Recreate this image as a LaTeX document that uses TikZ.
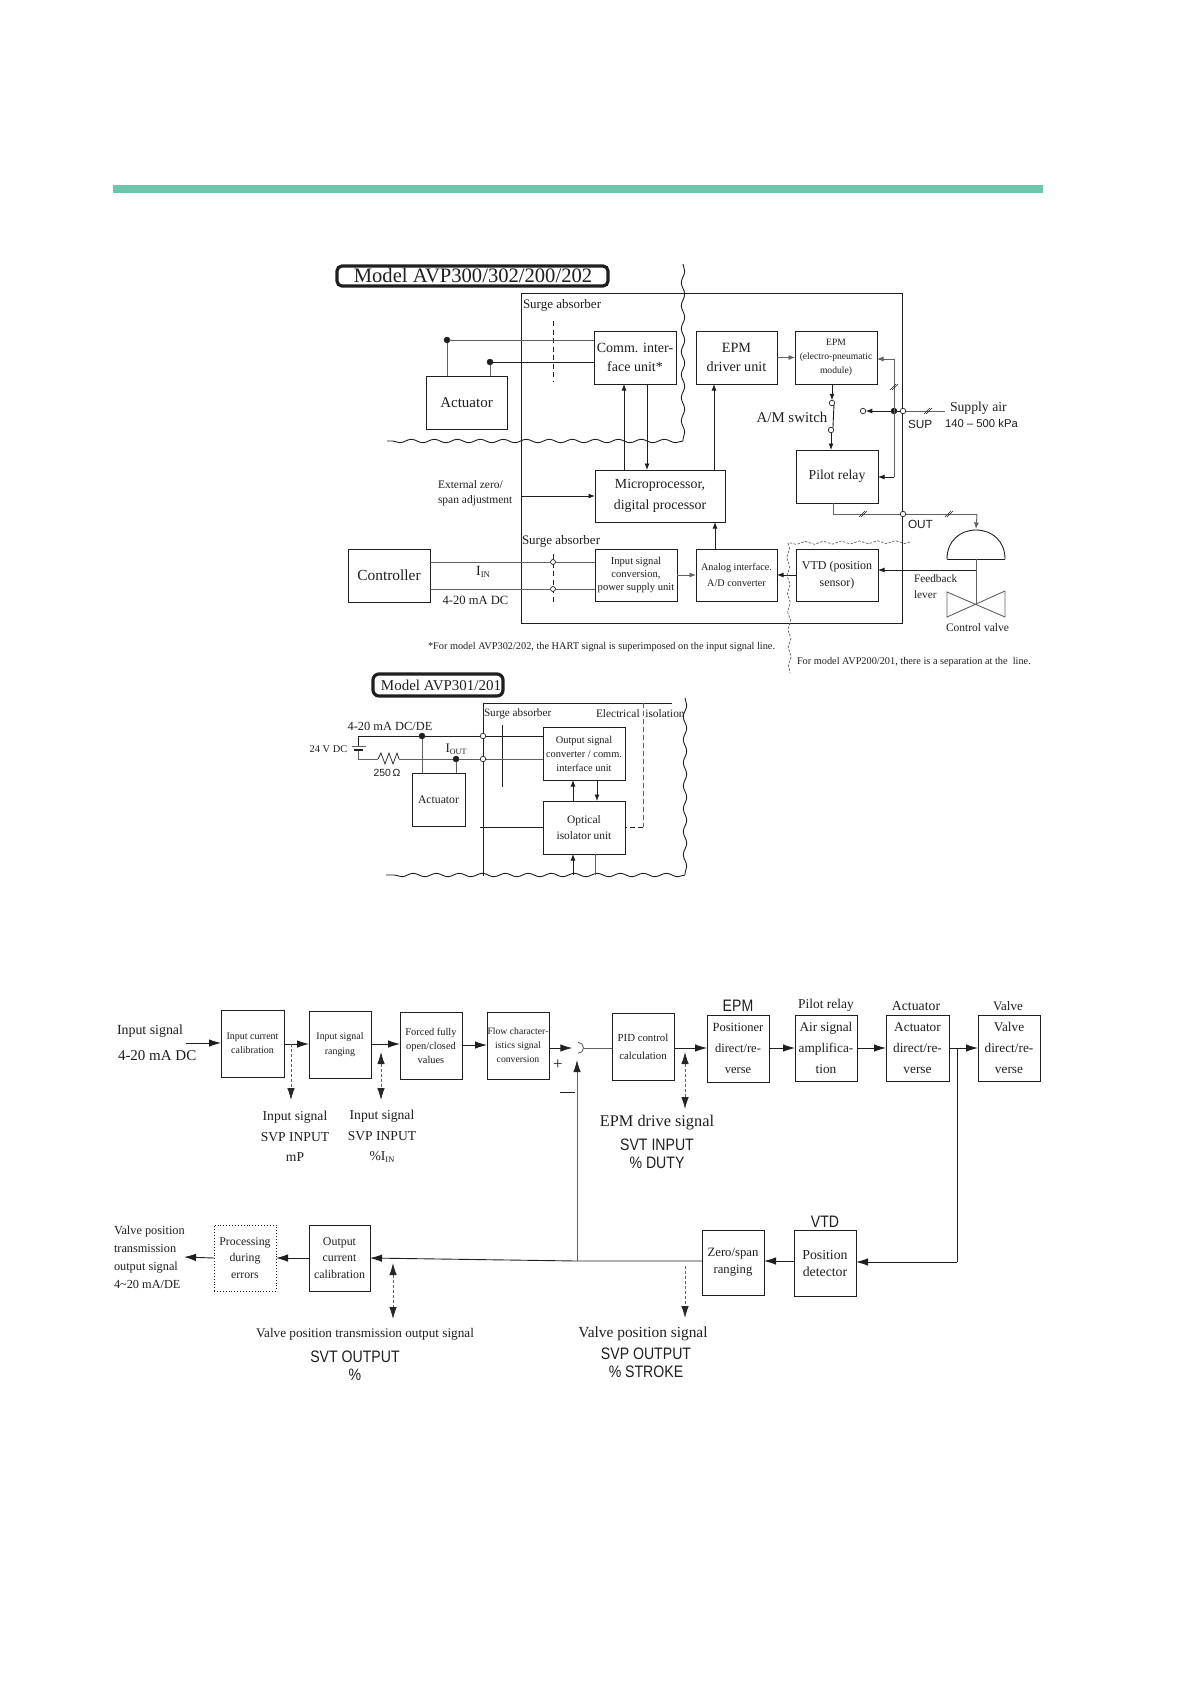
\documentclass[tikz,border=0pt]{standalone}
\usepackage{fontspec}
\setmainfont{Liberation Serif}
\setsansfont{Liberation Sans}
\usetikzlibrary{arrows.meta,decorations.pathmorphing,calc}
\definecolor{band}{HTML}{6CC6AC}
\definecolor{ink}{gray}{0.12}
\definecolor{gry}{gray}{0.38}
\newcommand{\fs}[2]{\fontsize{#1}{#2}\selectfont}
\newcommand{\sub}[1]{\raisebox{-0.12em}{\scalebox{0.62}{#1}}}
\newcommand{\cs}[1]{\scalebox{0.85}[1]{\sffamily\fs{16.6}{18}#1}}
% \bx[style]{name}{x1}{y1}{x2}{y2}{size}{leading}{text}
\newcommand{\bx}[9][]{%
  \pgfmathsetmacro{\cxx}{(#3+#5)/2}\pgfmathsetmacro{\cyy}{(#4+#6)/2}%
  \pgfmathsetmacro{\ww}{#5-#3}\pgfmathsetmacro{\hh}{#6-#4}%
  \node[blk,minimum width=\ww pt,minimum height=\hh pt,font=\fs{#7}{#8},#1] (#2) at (\cxx,\cyy) {#9};}
% \tx[style]{name}{x}{y}{size}{leading}{text}
\newcommand{\tx}[7][]{\node[txt,font=\fs{#5}{#6},#1] (#2) at (#3,#4) {#7};}
\tikzset{
  blk/.style={draw=ink,line width=0.9pt,fill=white,inner sep=0pt,outer sep=0pt,align=center,text=ink},
  txt/.style={inner sep=0pt,outer sep=0pt,align=center,text=ink},
  lft/.style={anchor=west,align=left},
  ss/.style={font=\sffamily\fs{#1}{#1}},
  ln/.style={draw=ink,line width=0.9pt},
  gl/.style={draw=gry,line width=0.9pt},
  arr/.style={ln,-{Latex[length=6.5pt,width=5pt]}},
  garr/.style={gl,-{Latex[length=6.5pt,width=5pt]}},
  barr/.style={ln,-{Latex[length=12pt,width=7.5pt]}},
  dar/.style={draw=gry,line width=0.8pt,densely dashed,{Latex[length=12pt,width=7.5pt,black!85]}-{Latex[length=12pt,width=7.5pt,black!85]}},
  dard/.style={draw=gry,line width=0.8pt,densely dashed,-{Latex[length=12pt,width=7.5pt,black!85]}},
  wav/.style={draw=ink,line width=0.9pt,decorate,decoration={snake,amplitude=1.7pt,segment length=23pt}},
  wavd/.style={draw=gry,line width=0.7pt,dash pattern=on 2.5pt off 1.5pt,decorate,decoration={snake,amplitude=1.5pt,segment length=18pt}},
  dot/.style={circle,fill=ink,draw=ink,inner sep=0pt,minimum size=6pt,outer sep=0pt},
  odot/.style={circle,fill=white,draw=ink,line width=0.7pt,inner sep=0pt,minimum size=5.5pt,outer sep=0pt},
  slash/.style={draw=ink,line width=0.5pt},
  pill/.style={draw=ink,line width=3.2pt,fill=white,rounded corners=5pt},
  dsh/.style={draw=ink,line width=0.65pt,dash pattern=on 5pt off 3.5pt}
}
\begin{document}
\begin{tikzpicture}[x=1pt,y=-1pt]
\useasboundingbox (0,0) rectangle (1191,1684);
\fill[white] (0,0) rectangle (1191,1684);
\fill[band] (113,185) rectangle (1043,193);

%% ---- Upper diagram ----
\draw[pill] (337,266) rectangle (608,286);
\tx{title1}{473}{275.5}{20.6}{22}{Model AVP300/302/200/202}
\draw[draw=ink,line width=0.9pt] (521,623) -- (521,293) -- (902,293) -- (902,623) -- cycle;
\coordinate (wa) at (683,264); \coordinate (wb) at (683,441); \coordinate (wc) at (387,441);
\draw[wav] (wa) -- (wb);
\draw[wav] (wb) -- (wc);
\tx[lft]{sa1}{523}{305.5}{13}{14}{Surge absorber}
\tx[lft]{sa2}{522}{541.5}{13}{14}{Surge absorber}
\coordinate (d1a) at (553,321); \coordinate (d1b) at (553,382);
\draw[dsh] (d1a) -- (d1b);
\coordinate (d2a) at (553,554); \coordinate (d2b) at (553,605);
\draw[dsh] (d2a) -- (d2b);

\bx{comm}{594}{331}{676}{384}{14}{19}{Comm. inter-\\face unit*}
\bx{drv}{696}{331}{777}{384}{14.2}{19.5}{EPM\\driver unit}
\bx{epm}{795}{331}{877}{384}{9.6}{14}{EPM\\(electro-pneumatic\\module)}
\bx{pilot}{796}{450}{878}{503}{13.7}{16}{Pilot relay}
\bx{act}{426}{376}{507}{429}{15}{17}{Actuator}
\bx{micro}{595}{470}{725}{522}{13.9}{20.5}{Microprocessor,\\digital processor}
\bx{ctrl}{348}{549}{430}{602}{15.4}{17}{Controller}
\bx{insig}{595}{549}{677}{601}{10.6}{13}{Input signal\\conversion,\\power supply unit}
\bx{analog}{696}{549}{777}{601}{10.2}{16}{Analog interface.\\A/D converter}
\bx{vtd}{796}{549}{878}{601}{12}{16.5}{VTD (position\\sensor)}

\node[dot] (j1) at (447,340) {};
\node[dot] (j2) at (490,362) {};
\draw[gl] (j1) -- (comm.west |- j1);
\draw[ln] (j2) -- (comm.west |- j2);
\draw[gl] (j1) -- (act.north -| j1);
\draw[gl] (j2) -- (act.north -| j2);
\draw[arr] (micro.north -| 624,0) -- (comm.south -| 624,0);
\draw[arr] (comm.south -| 647,0) -- (micro.north -| 647,0);
\draw[arr] (micro.north -| 714,0) -- (drv.south -| 714,0);
\draw[garr] (drv.east) -- (epm.west);
\draw[arr] (analog.north -| 715,0) -- (micro.south -| 715,0);
\draw[garr] (insig.east) -- (analog.west);
\tx[lft]{ext}{438}{493.5}{11.5}{15}{External zero/\\span adjustment}
\coordinate (extin) at (521,496);
\draw[arr] (extin) -- (micro.west |- extin);

\node[odot,minimum size=5pt] (sw1) at (553,562) {};
\node[odot,minimum size=5pt] (sw2) at (553,589) {};
\draw[gl] (ctrl.east |- sw1) -- (sw1) -- (insig.west |- sw1);
\draw[gl] (ctrl.east |- sw2) -- (sw2) -- (insig.west |- sw2);
\tx{iin}{483}{572}{14}{15}{I\sub{IN}}
\tx{ma}{475.5}{600}{12.6}{14}{4-20 mA DC}

% pneumatic
\node[odot] (swa) at (832,403) {};
\node[odot] (swb) at (831,430) {};
\draw[ln] (swa.south east) -- (swb.north east);
\draw[arr] (epm.south -| swa) -- (swa);
\draw[arr] (swb) -- (pilot.north -| swb);
\tx{am}{792}{417}{14.9}{16}{A/M switch}
\node[odot] (sup) at (903,411) {};
\node[odot] (manout) at (863,411) {};
\node[dot] (supj) at (894,411) {};
\coordinate (supin) at (945,411);
\draw[gl] (supin) -- (sup);
\draw[ln] (sup) -- (supj);
\draw[arr] (supj) -- (manout);
\coordinate (spa) at (894,359); \coordinate (spb) at (894,477);
\draw[gl] (spa) -- (spb);
\draw[garr] (spa) -- (epm.east |- spa);
\draw[arr] (spb) -- (pilot.east |- spb);
\foreach \sx/\sy in {893/387,895/387,927/411,929/411}{\draw[slash] (\sx-3,\sy+3) -- (\sx+3,\sy-3);}
\tx[lft]{supair}{950}{408}{13.7}{15}{Supply air}
\tx[lft,ss=11.3]{kpa}{945}{423}{11.3}{12}{140 – 500 kPa}
\tx[lft,ss=11.8]{suplab}{908}{424}{11.8}{12}{SUP}
\tx[lft,ss=11.8]{outlab}{908}{524}{11.8}{12}{OUT}
\node[odot] (outp) at (903,514) {};
\coordinate (oc) at (833,514);
\coordinate (od) at (977,514);
\coordinate (dometop) at (976,529);
\draw[gl] (pilot.south -| oc) -- (oc) -- (outp) -- (od);
\draw[arr,draw=gry] (od) -- (dometop);
\foreach \sx/\sy in {862/514,864/514,948/514,950/514}{\draw[slash] (\sx-3,\sy+3) -- (\sx+3,\sy-3);}
% valve
\draw[ln] (947,559) .. controls (947,541) and (960,530) .. (976,530) .. controls (992,530) and (1005,541) .. (1005,559);
\draw[ln] (947,559) -- (1005,559);
\coordinate (stema) at (976,559); \coordinate (stemb) at (976,604); \coordinate (fb) at (976,570);
\draw[gl] (stema) -- (stemb);
\draw[gl] (947,592) -- (1005,617) -- (1005,591) -- (947,617) -- cycle;
\draw[arr] (fb) -- (vtd.east |- fb);
\draw[arr] (vtd.west) -- (analog.east);
\tx[lft]{fbl}{914}{586.5}{11.3}{15.5}{Feedback\\lever}
\tx[lft]{cv}{946}{628}{11.5}{13}{Control valve}
\coordinate (wd1) at (910,542); \coordinate (wd2) at (788,543); \coordinate (wd3) at (790,673);
\draw[wavd] (wd1) -- (wd2);
\draw[wavd] (wd2) -- (wd3);
\tx[lft]{fn1}{428}{647}{10.3}{12}{*For model AVP302/202, the HART signal is superimposed on the input signal line.}
\tx[lft]{fn2}{797}{662}{10.3}{12}{For model AVP200/201, there is a separation at the\ \ line.}

%% ---- Middle diagram ----
\draw[pill,rounded corners=6pt] (373,674) rectangle (503,696);
\tx{title2}{441}{685}{15}{16}{Model AVP301/201}
\coordinate (mtr) at (672,703); \coordinate (mtl) at (483,703); \coordinate (mbl) at (483,876);
\draw[ln] (mtr) -- (mtl) -- (mbl);
\coordinate (mw1) at (685,698); \coordinate (mw2) at (685,875); \coordinate (mw3) at (386,875);
\draw[wav] (mw1) -- (mw2);
\draw[wav] (mw2) -- (mw3);
\tx[lft]{msa}{484}{713.5}{11.2}{12}{Surge absorber}
\tx[lft]{mei}{596}{714}{11.4}{12}{Electrical \ isolation}
\coordinate (sa1) at (502,725); \coordinate (sa2) at (502,787);
\draw[ln] (sa1) -- (sa2);

\bx{conv}{543}{727}{625}{780}{10.4}{14}{Output signal\\converter / comm.\\interface unit}
\bx{opt}{543}{801}{625}{854}{11.4}{16}{Optical\\isolator unit}
\bx{mact}{412}{773}{465}{826}{11.7}{12}{Actuator}

\node[dot] (mj1) at (422,736) {};
\node[dot] (mj2) at (456,759) {};
\node[odot] (mo1) at (483,736) {};
\node[odot] (mo2) at (483,759) {};
\coordinate (batt) at (358,736); \coordinate (batb) at (358,759);
\coordinate (bp1) at (358,746); \coordinate (bp2) at (358,750);
\coordinate (ra) at (378,759); \coordinate (rb) at (399,759);
\draw[ln] (bp1) -- (batt) -- (mj1) -- (mo1) -- (conv.west |- mo1);
\draw[gl] (bp2) -- (batb) -- (ra);
\draw[gl] (rb) -- (mj2) -- (mo2) -- (conv.west |- mo2);
\draw[ln,line width=0.7pt] (ra) -- (381,753) -- (385,764) -- (389,753) -- (393,764) -- (397,753) -- (rb);
\draw[draw=gry,line width=0.8pt] (352,746) -- (366,746);
\draw[draw=ink,line width=1.6pt] (354,750) -- (363,750);
\draw[gl] (mj1) -- (mact.north -| mj1);
\draw[gl] (mj2) -- (mact.north -| mj2);
\tx{mma}{390}{726}{12.4}{14}{4-20 mA DC/DE}
\tx{m24}{328.5}{749}{10.4}{12}{24 V DC}
\tx{iout}{456}{749}{13}{14}{I\sub{OUT}}
\tx{ohm}{387}{773}{10.4}{12}{\sffamily 250\,Ω}
\draw[arr] (opt.north -| 573,0) -- (conv.south -| 573,0);
\draw[arr] (conv.south -| 597,0) -- (opt.north -| 597,0);
\coordinate (oi) at (480,827);
\draw[ln] (oi) -- (opt.west |- oi);
\coordinate (oa) at (573,875); \coordinate (ob) at (595,875);
\draw[arr] (oa) -- (opt.south -| oa);
\draw[gl] (opt.south -| ob) -- (ob);
\coordinate (ei1) at (643,703); \coordinate (ei2) at (643,827);
\draw[gl,dash pattern=on 5pt off 3pt] (ei1) -- (ei2);
\draw[ln,dash pattern=on 5pt off 3pt] (ei2) -- (opt.east |- ei2);

%% ---- Lower diagram ----
\tx[lft]{sigin}{117}{1031}{13.9}{15}{Input signal}
\tx[lft]{sigma}{118}{1056}{15}{16}{4-20 mA DC}
\bx{b1}{221}{1010}{284}{1077}{10}{14.5}{Input current\\calibration}
\bx{b2}{309}{1011}{371}{1078}{9.9}{14.5}{Input signal\\ranging}
\bx{b3}{400}{1012}{462}{1079}{10.4}{14}{Forced fully\\open/closed\\values}
\bx{b4}{487}{1012}{549}{1079}{9.7}{14}{Flow character-\\istics signal\\conversion}
\bx{b5}{612}{1013}{674}{1080}{10.8}{18}{PID control\\calculation}
\bx{b6}{707}{1015}{769}{1082}{12.5}{21}{Positioner\\direct/re-\\verse}
\bx{b7}{795}{1015}{857}{1081}{13.3}{21}{Air signal\\amplifica-\\tion}
\bx{b8}{886}{1015}{949}{1081}{13.3}{21}{Actuator\\direct/re-\\verse}
\bx{b9}{978}{1015}{1040}{1081}{13.3}{21}{Valve\\direct/re-\\verse}

\coordinate (in0) at (186,1043);
\draw[barr] (in0) -- (b1.west |- in0);
\coordinate (y1) at (0,1044);
\draw[barr] (b1.east |- y1) -- (b2.west |- y1);
\draw[barr] (b2.east |- y1) -- (b3.west |- y1);
\coordinate (y2) at (0,1045);
\draw[barr] (b3.east |- y2) -- (b4.west |- y2);
\node[inner sep=0pt,minimum size=11pt,circle] (sum) at (578,1048) {};
\draw[gl] (sum.north) arc[start angle=-90,end angle=90,radius=5.5];
\draw[barr] (b4.east |- sum.west) -- (sum.west);
\draw[gl] (sum.east) -- (b5.west |- sum.east);
\coordinate (y3) at (0,1048);
\draw[barr] (b5.east |- y3) -- (b6.west |- y3);
\draw[barr] (b6.east |- y3) -- (b7.west |- y3);
\draw[barr] (b7.east |- y3) -- (b8.west |- y3);
\draw[barr] (b8.east |- y3) -- (b9.west |- y3);
\tx{plus}{558}{1065}{17}{17}{+}
\coordinate (m1) at (560,1092); \coordinate (m2) at (575,1092);
\draw[ln] (m1) -- (m2);

\coordinate (p1a) at (291,1044); \coordinate (p1b) at (291,1100);
\draw[dard] (p1a) -- (p1b);
\coordinate (p2a) at (381,1052); \coordinate (p2b) at (381,1100);
\draw[dar] (p2a) -- (p2b);
\coordinate (p3a) at (685,1052); \coordinate (p3b) at (685,1109);
\draw[dar] (p3a) -- (p3b);

\tx{l1}{295}{1136.5}{13.6}{20.5}{Input signal\\SVP INPUT\\mP}
\tx{l2}{382}{1136.5}{13.6}{20.5}{Input signal\\SVP INPUT\\\%I\sub{IN}}
\tx{ep1}{657}{1123}{16.3}{18}{EPM drive signal}
\tx{ep2}{657}{1154}{16.6}{18}{\cs{SVT INPUT}\\\cs{\% DUTY}}
\tx{hd1}{738}{1006}{16.6}{18}{\cs{EPM}}
\tx{hd2}{826}{1005}{13.5}{15}{Pilot relay}
\tx{hd3}{916}{1006}{13.8}{15}{Actuator}
\tx{hd4}{1008}{1006}{13}{15}{Valve}

\bx[dotted]{c1}{214}{1225}{276}{1291}{11.8}{16.5}{Processing\\during\\errors}
\bx{c2}{309}{1225}{370}{1291}{11.9}{16.5}{Output\\current\\calibration}
\bx{c3}{702}{1230}{764}{1295}{12.7}{17}{Zero/span\\ranging}
\bx{c4}{794}{1230}{856}{1296}{13.8}{17}{Position\\detector}
\coordinate (valveout) at (184,1257);
\draw[barr] (c1.west) -- (valveout);
\draw[barr] (c2.west) -- (c1.east);
\draw[barr] (c4.west |- 0,1261) -- (c3.east |- 0,1261);
\draw[barr] (c3.west |- 0,1261) -- (577,1261) -- (c2.east);
\coordinate (fbk) at (957,1048); \coordinate (fbk2) at (957,1262);
\draw[ln] (fbk) -- (fbk2);
\draw[barr] (fbk2) -- (c4.east |- fbk2);
\coordinate (fa) at (577,1261); \coordinate (fb2) at (577,1060);
\draw[gl,-{Latex[length=12pt,width=7.5pt,black!85]}] (fa) -- (fb2);
\coordinate (p4a) at (393,1263); \coordinate (p4b) at (393,1319);
\draw[dar] (p4a) -- (p4b);
\coordinate (p5a) at (685,1266); \coordinate (p5b) at (685,1318);
\draw[dard] (p5a) -- (p5b);

\tx[lft]{vp}{114}{1257}{12.3}{18}{Valve position\\transmission\\output signal\\4\textasciitilde 20 mA/DE}
\tx{vtdl}{825}{1222}{16.6}{18}{\cs{VTD}}
\tx{vt1}{365}{1334}{13.2}{15}{Valve position transmission output signal}
\tx{vt2}{355}{1366}{16.6}{18}{\cs{SVT OUTPUT}\\\cs{\%}}
\tx{vs1}{643}{1334}{15.4}{17}{Valve position signal}
\tx{vs2}{646}{1363}{16.6}{18}{\cs{SVP OUTPUT}\\\cs{\% STROKE}}
\end{tikzpicture}
\end{document}
